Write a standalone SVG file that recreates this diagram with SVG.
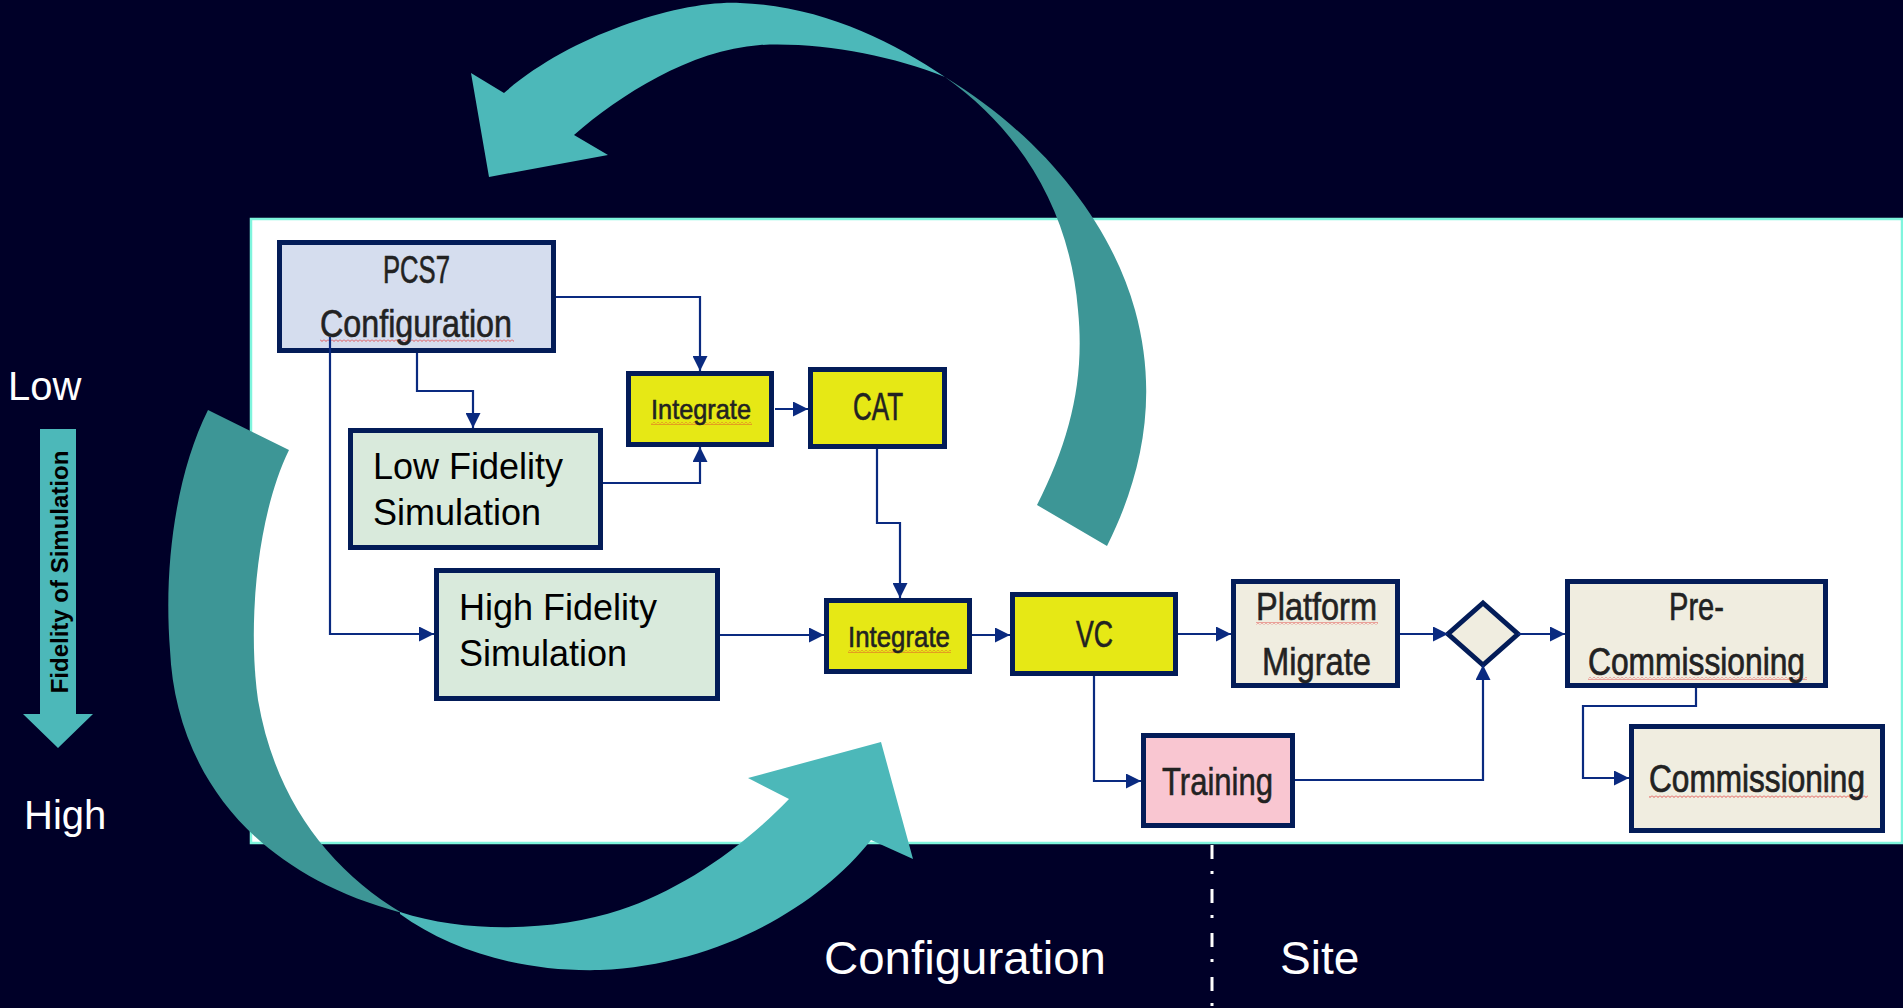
<svg xmlns="http://www.w3.org/2000/svg" width="1903" height="1008" viewBox="0 0 1903 1008">
<style>
.node{stroke:#031c58;stroke-width:5}
.blue{fill:#d5ddee}
.green{fill:#d9eadc}
.yellow{fill:#e6e815}
.beige{fill:#f0ede0}
.pink{fill:#f9c6d1}
.cal{font-family:"Liberation Sans",Arial,sans-serif;fill:#222;stroke:#222;stroke-width:0.6;text-anchor:middle}
.ari{font-family:"Liberation Sans",Arial,sans-serif;fill:#000;font-size:36px}
.wht{font-family:"Liberation Sans",Arial,sans-serif;fill:#fff}
.conn path{fill:none;stroke:#0a2a80;stroke-width:2.2}
.lt{fill:#4cb8b9}
.dk{fill:#3d9696}
.sq{fill:url(#squig)}
</style>
<defs>
<marker id="ah" viewBox="0 0 10 10" refX="10" refY="5" markerUnits="userSpaceOnUse" markerWidth="17" markerHeight="15" orient="auto">
<path d="M0,0 L10,5 L0,10 z" fill="#0a2a80"/>
</marker>
<pattern id="squig" width="4" height="3" patternUnits="userSpaceOnUse">
<path d="M0,0.5 L2,2.5 L4,0.5" fill="none" stroke="#e03030" stroke-width="0.8"/>
</pattern>
</defs>
<rect x="0" y="0" width="1903" height="1008" fill="#000028"/>
<rect id="panel" x="251" y="219" width="1651" height="624" fill="#fff" stroke="#7ff5dd" stroke-width="2.5"/>

<g id="fidelity-scale">
<text class="wht" x="8" y="400" font-size="40">Low</text>
<text class="wht" x="24" y="829" font-size="40">High</text>
<polygon class="lt" points="40,429 76,429 76,714 93,714 58,748 23,714 40,714"/>
<text transform="translate(68,572) rotate(-90)" text-anchor="middle" font-family="Liberation Sans,Arial,sans-serif" font-weight="bold" font-size="24" fill="#000">Fidelity of Simulation</text>
</g>

<g id="node-pcs7">
<rect class="node blue" x="279.5" y="242.5" width="274" height="108"/>
<text class="cal" x="416.5" y="283" font-size="38" textLength="67" lengthAdjust="spacingAndGlyphs">PCS7</text>
<rect class="sq" x="320" y="339" width="194" height="3"/>
<text class="cal" x="416" y="337" font-size="38" textLength="192" lengthAdjust="spacingAndGlyphs">Configuration</text>
</g>
<g id="node-lowfid">
<rect class="node green" x="350.5" y="430.5" width="250" height="117"/>
<text class="ari" x="373" y="479">Low Fidelity</text>
<text class="ari" x="373" y="525">Simulation</text>
</g>
<g id="node-highfid">
<rect class="node green" x="436.5" y="570.5" width="281" height="128"/>
<text class="ari" x="459" y="620">High Fidelity</text>
<text class="ari" x="459" y="666">Simulation</text>
</g>
<g id="node-integrate1">
<rect class="node yellow" x="628.5" y="373.5" width="143" height="71"/>
<rect class="sq" x="651" y="422" width="101" height="3"/>
<text class="cal" x="701" y="419" font-size="28" textLength="100" lengthAdjust="spacingAndGlyphs">Integrate</text>
</g>
<g id="node-cat">
<rect class="node yellow" x="810.5" y="369.5" width="134" height="77"/>
<text class="cal" x="878" y="420" font-size="38" textLength="50" lengthAdjust="spacingAndGlyphs">CAT</text>
</g>
<g id="node-integrate2">
<rect class="node yellow" x="826.5" y="600.5" width="143" height="71"/>
<rect class="sq" x="848" y="650" width="103" height="3"/>
<text class="cal" x="899" y="647" font-size="29" textLength="102" lengthAdjust="spacingAndGlyphs">Integrate</text>
</g>
<g id="node-vc">
<rect class="node yellow" x="1012.5" y="594.5" width="163" height="79"/>
<text class="cal" x="1094.5" y="647" font-size="37" textLength="37" lengthAdjust="spacingAndGlyphs">VC</text>
</g>
<g id="node-platform">
<rect class="node beige" x="1233.5" y="581.5" width="164" height="104"/>
<rect class="sq" x="1256" y="622" width="122" height="3"/>
<text class="cal" x="1316.5" y="620" font-size="38" textLength="121" lengthAdjust="spacingAndGlyphs">Platform</text>
<text class="cal" x="1316.5" y="675" font-size="38" textLength="109" lengthAdjust="spacingAndGlyphs">Migrate</text>
</g>
<g id="node-decision">
<polygon class="node beige" points="1483,603 1518,634 1483,665 1448,634"/>
</g>
<g id="node-precomm">
<rect class="node beige" x="1567.5" y="581.5" width="258" height="104"/>
<text class="cal" x="1696.5" y="620" font-size="38" textLength="55" lengthAdjust="spacingAndGlyphs">Pre-</text>
<rect class="sq" x="1588" y="677" width="219" height="3"/>
<text class="cal" transform="translate(1696.5,675) scale(1,1.19)" x="0" y="0" font-size="32" textLength="217" lengthAdjust="spacingAndGlyphs">Commissioning</text>
</g>
<g id="node-training">
<rect class="node pink" x="1143.5" y="735.5" width="149" height="90"/>
<text class="cal" x="1217.5" y="795" font-size="39" textLength="111" lengthAdjust="spacingAndGlyphs">Training</text>
</g>
<g id="node-comm">
<rect class="node beige" x="1631.5" y="726.5" width="251" height="104"/>
<rect class="sq" x="1649" y="795" width="219" height="3"/>
<text class="cal" transform="translate(1757,792) scale(1,1.19)" x="0" y="0" font-size="32" textLength="216" lengthAdjust="spacingAndGlyphs">Commissioning</text>
</g>

<g class="conn" id="connectors">
<path d="M556,297 H700 V371" marker-end="url(#ah)"/>
<path d="M417,353 V391 H473 V428" marker-end="url(#ah)"/>
<path d="M603,483 H700 V447" marker-end="url(#ah)"/>
<path d="M775,409 H808" marker-end="url(#ah)"/>
<path d="M877,449 V523 H900 V598" marker-end="url(#ah)"/>
<path d="M330,337 V634 H434" marker-end="url(#ah)"/>
<path d="M720,635 H824" marker-end="url(#ah)"/>
<path d="M972,635 H1010" marker-end="url(#ah)"/>
<path d="M1178,634 H1231" marker-end="url(#ah)"/>
<path d="M1400,634 H1448" marker-end="url(#ah)"/>
<path d="M1518,634 H1565" marker-end="url(#ah)"/>
<path d="M1094,676 V781 H1141" marker-end="url(#ah)"/>
<path d="M1295,780 H1483 V665" marker-end="url(#ah)"/>
<path d="M1696,688 V706 H1583 V778 H1629" marker-end="url(#ah)"/>
</g>

<g id="cycle-arrows">
<path class="lt" d="M489,177 L471,73 L504,93 C570,35 680,0 740,3 C820,6 890,40 945,77 C890,55 820,42 760,45 C690,50 620,95 574,135 L608,155 Z"/>
<path class="dk" d="M945,77 C1040,135 1110,220 1135,310 C1160,400 1140,480 1107,546 L1037,505 C1070,440 1085,380 1078,310 C1070,210 1020,130 945,77 Z"/>
<path class="dk" d="M208,410 C178,470 163,560 170,650 C175,760 240,870 402,913 C330,870 275,800 258,700 C248,630 255,520 289,450 Z"/>
<path class="lt" d="M400,912 C470,935 560,930 620,910 C680,890 740,850 789,799 L748,778 L881,742 L913,859 L871,840 C820,905 720,965 600,970 C520,972 450,950 400,914 Z"/>
</g>

<g id="phase-labels">
<line x1="1212" y1="845" x2="1212" y2="1008" stroke="#fff" stroke-width="3" stroke-dasharray="14 12 3 15"/>
<text class="wht" x="824" y="974" font-size="47" textLength="282" lengthAdjust="spacingAndGlyphs">Configuration</text>
<text class="wht" x="1280" y="974" font-size="46">Site</text>
</g>
</svg>
